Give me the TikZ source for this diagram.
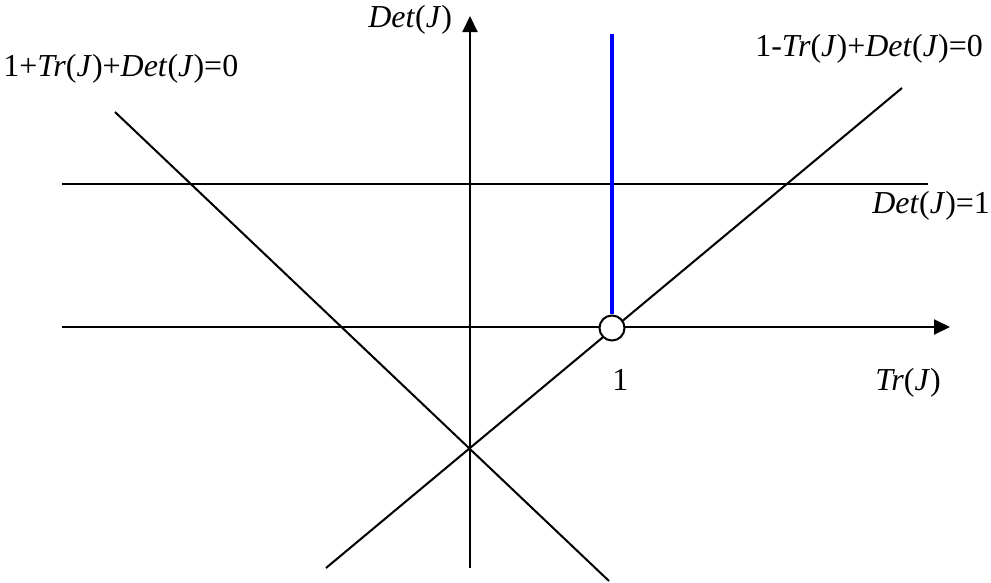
\documentclass[tikz,border=0pt]{standalone}
\usepackage{fontspec}
\setmainfont{Liberation Serif}
\usetikzlibrary{arrows.meta}
\begin{document}
\begin{tikzpicture}[x=0.02cm, y=-0.02cm,
		axis/.style={line width=1.15pt, -{Triangle[length=0.32cm, width=0.3cm]}},
		border/.style={line width=1.15pt},
		lbl/.style={inner sep=0pt, anchor=base west, font=\fontsize{18.2}{20}\selectfont}]
		\useasboundingbox (0,0) rectangle (991,582);

		% axes
		\coordinate (trstart) at (62,327);
		\coordinate (trend) at (950,327);
		\coordinate (detstart) at (470,568);
		\coordinate (detend) at (470,16);
		\draw[axis] (trstart) -- (trend);
		\draw[axis] (detstart) -- (detend);

		% stability boundaries
		\coordinate (dl) at (62,184);
		\coordinate (dr) at (928,184);
		\coordinate (flipa) at (115,112);
		\coordinate (flipb) at (609,581);
		\coordinate (folda) at (326,568);
		\coordinate (foldb) at (902,88);
		\draw[border] (dl) -- (dr);
		\draw[border] (flipa) -- (flipb);
		\draw[border] (folda) -- (foldb);

		% blue half-line above the point 1
		\coordinate (bluetop) at (612,34);
		\node[draw, circle, fill=white, line width=1.15pt, inner sep=0pt, minimum size=0.5cm] (one) at (612,328) {};
		\draw[blue, line width=2.4pt] (one.north) -- (bluetop);

		% labels
		\node[lbl] (detlabel) at (368,27) {\textit{Det}(\textit{J})};
		\node[lbl] (fliplabel) at (3,76) {1+\textit{Tr}(\textit{J})+\textit{Det}(\textit{J})=0};
		\node[lbl] (foldlabel) at (755,56) {1-\textit{Tr}(\textit{J})+\textit{Det}(\textit{J})=0};
		\node[lbl] (hopflabel) at (872,213) {\textit{Det}(\textit{J})=1};
		\node[lbl] (onelabel) at (612,390) {1};
		\node[lbl] (trlabel) at (875,390) {\textit{Tr}(\textit{J})};
	\end{tikzpicture}
\end{document}
